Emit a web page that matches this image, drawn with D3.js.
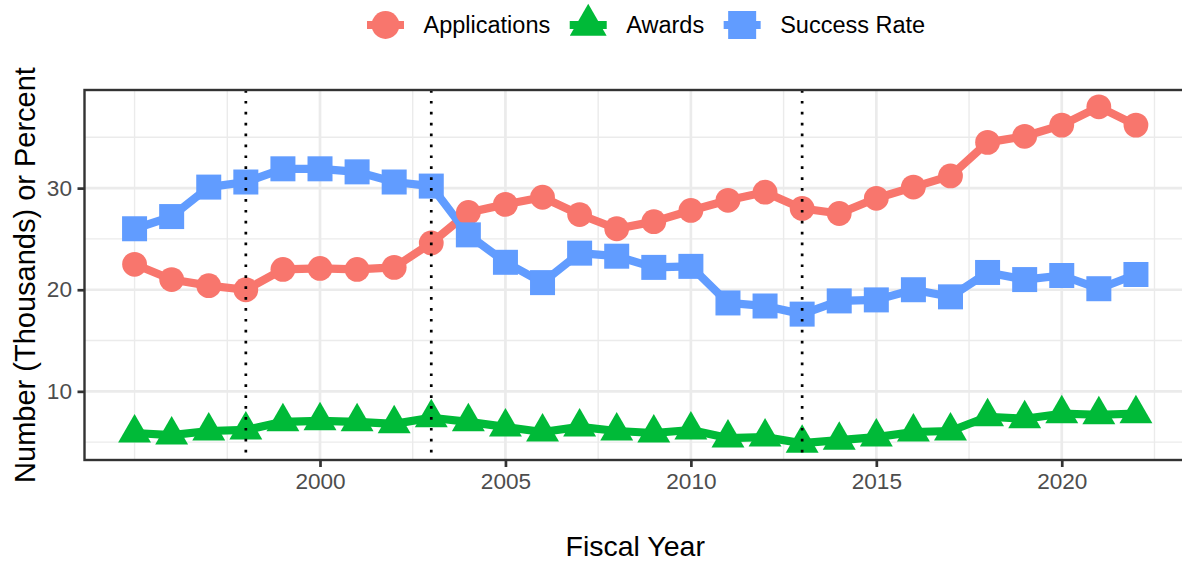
<!DOCTYPE html>
<html>
<head>
<meta charset="utf-8">
<script src="https://cdn.jsdelivr.net/npm/d3@7/dist/d3.min.js"></script>
<style>
  html, body { margin: 0; padding: 0; background: #ffffff; }
  svg { display: block; font-family: "Liberation Sans", Arial, sans-serif; }
</style>
</head>
<body>
<svg id="chart" width="1182" height="562"></svg>
<script>
// ---- data ----
const years = [1995, 1996, 1997, 1998, 1999, 2000, 2001, 2002, 2003, 2004, 2005, 2006, 2007, 2008,
               2009, 2010, 2011, 2012, 2013, 2014, 2015, 2016, 2017, 2018, 2019, 2020, 2021, 2022];
const applications = [22.5, 21.0, 20.4, 20.0, 22.0, 22.1, 22.0, 22.2, 24.6, 27.6, 28.4, 29.1, 27.4, 26.0,
                      26.7, 27.8, 28.8, 29.6, 28.0, 27.5, 29.0, 30.1, 31.2, 34.5, 35.1, 36.2, 38.0, 36.2];
const awards = [5.9, 5.7, 6.1, 6.2, 7.0, 7.1, 7.0, 6.8, 7.4, 7.0, 6.5, 6.0, 6.5, 6.1,
                5.9, 6.2, 5.4, 5.5, 4.9, 5.2, 5.5, 6.0, 6.1, 7.5, 7.3, 7.8, 7.7, 7.8];
const successRate = [26.0, 27.2, 30.1, 30.6, 31.9, 31.9, 31.6, 30.6, 30.2, 25.4, 22.7, 20.7, 23.6, 23.3,
                     22.2, 22.3, 18.7, 18.4, 17.6, 18.9, 19.0, 20.0, 19.3, 21.7, 21.0, 21.4, 20.1, 21.5];
const seriesNames = ["Applications", "Awards", "Success Rate"];
const seriesColors = ["#F8766D", "#00BA38", "#619CFF"];
const seriesShapes = ["circle", "triangle", "square"];
const vlineYears = [1998, 2003, 2013];
const xTicks = [2000, 2005, 2010, 2015, 2020];
const xMinor = [1995, 1997.5, 2002.5, 2007.5, 2012.5, 2017.5, 2022.5];
const yTicks = [10, 20, 30];
const yMinor = [5, 15, 25, 35];
const xTitle = "Fiscal Year";
const yTitle = "Number (Thousands) or Percent";

// ---- layout ----
const panel = { left: 84.5, right: 1186, top: 90, bottom: 460 };
const svg = d3.select("#chart");
svg.append("rect").attr("width", 1182).attr("height", 562).attr("fill", "#ffffff");

const valuesList = [applications, awards, successRate];
const allVals = valuesList.flat();
const yMin = d3.min(allVals), yMax = d3.max(allVals);
const yPad = (yMax - yMin) * 0.05;
const xPad = (d3.max(years) - d3.min(years)) * 0.05;

const x = d3.scaleLinear().domain([d3.min(years) - xPad, d3.max(years) + xPad]).range([panel.left, panel.right]);
const y = d3.scaleLinear().domain([yMin - yPad, yMax + yPad]).range([panel.bottom, panel.top]);

const series = seriesNames.map((name, i) => ({
  name, color: seriesColors[i], shape: seriesShapes[i],
  values: years.map((yr, j) => ({ year: yr, value: valuesList[i][j] }))
}));

// grid
const grid = svg.append("g");
grid.selectAll(".ymin").data(yMinor).enter().append("line")
  .attr("x1", panel.left).attr("x2", panel.right)
  .attr("y1", d => y(d)).attr("y2", d => y(d))
  .attr("stroke", "#EBEBEB").attr("stroke-width", 1.4);
grid.selectAll(".xmin").data(xMinor).enter().append("line")
  .attr("y1", panel.top).attr("y2", panel.bottom)
  .attr("x1", d => x(d)).attr("x2", d => x(d))
  .attr("stroke", "#EBEBEB").attr("stroke-width", 1.4);
grid.selectAll(".ymaj").data(yTicks).enter().append("line")
  .attr("x1", panel.left).attr("x2", panel.right)
  .attr("y1", d => y(d)).attr("y2", d => y(d))
  .attr("stroke", "#EBEBEB").attr("stroke-width", 2.7);
grid.selectAll(".xmaj").data(xTicks).enter().append("line")
  .attr("y1", panel.top).attr("y2", panel.bottom)
  .attr("x1", d => x(d)).attr("x2", d => x(d))
  .attr("stroke", "#EBEBEB").attr("stroke-width", 2.7);

// symbol helper
const CIRC_R = 12.4, SQ = 25, TRI_R = 19;
function addSymbol(g, shape, cx, cy, color, k) {
  k = k || 1;
  if (shape === "circle") {
    g.append("circle").attr("cx", cx).attr("cy", cy).attr("r", CIRC_R * k).attr("fill", color);
  } else if (shape === "square") {
    const s = SQ * k;
    g.append("rect").attr("x", cx - s / 2).attr("y", cy - s / 2).attr("width", s).attr("height", s).attr("fill", color);
  } else {
    const r = TRI_R * k;
    const hw = r * Math.sqrt(3) / 2;
    g.append("path")
      .attr("d", `M${cx},${cy - r}L${cx + hw},${cy + r / 2}L${cx - hw},${cy + r / 2}Z`)
      .attr("fill", color);
  }
}

// lines
const lineGen = d3.line().x(d => x(d.year)).y(d => y(d.value));
const plotG = svg.append("g");
series.forEach(s => {
  plotG.append("path").datum(s.values).attr("d", lineGen)
    .attr("fill", "none").attr("stroke", s.color).attr("stroke-width", 8.2)
    .attr("stroke-linejoin", "round").attr("stroke-linecap", "butt");
});
// points
series.forEach(s => {
  s.values.forEach(d => addSymbol(plotG, s.shape, x(d.year), y(d.value), s.color));
});

// vertical dotted lines
svg.append("g").selectAll("line").data(vlineYears).enter().append("line")
  .attr("x1", d => x(d)).attr("x2", d => x(d))
  .attr("y1", panel.top).attr("y2", panel.bottom)
  .attr("stroke", "#000").attr("stroke-width", 2.7).attr("stroke-dasharray", "2.7 8.2");

// panel border
svg.append("rect").attr("x", panel.left).attr("y", panel.top)
  .attr("width", panel.right - panel.left).attr("height", panel.bottom - panel.top)
  .attr("fill", "none").attr("stroke", "#333333").attr("stroke-width", 2.4);

// axes
const xAxis = d3.axisBottom(x).tickValues(xTicks).tickFormat(d3.format("d")).tickSize(7).tickPadding(5.5);
const gx = svg.append("g").attr("transform", `translate(0,${panel.bottom})`).call(xAxis);
gx.select(".domain").remove();
gx.selectAll(".tick line").attr("stroke", "#333333").attr("stroke-width", 2.7);
gx.selectAll(".tick text").attr("fill", "#4D4D4D").attr("font-size", 22.6)
  .attr("font-family", "Liberation Sans, Arial, sans-serif");

const yAxis = d3.axisLeft(y).tickValues(yTicks).tickFormat(d3.format("d")).tickSize(7).tickPadding(5.5);
const gy = svg.append("g").attr("transform", `translate(${panel.left},0)`).call(yAxis);
gy.select(".domain").remove();
gy.selectAll(".tick line").attr("stroke", "#333333").attr("stroke-width", 2.7);
gy.selectAll(".tick text").attr("fill", "#4D4D4D").attr("font-size", 22.6)
  .attr("font-family", "Liberation Sans, Arial, sans-serif");

// titles
svg.append("text").attr("x", (panel.left + panel.right) / 2).attr("y", 556)
  .attr("text-anchor", "middle").attr("font-size", 28.5).attr("fill", "#000").text(xTitle);
svg.append("text").attr("transform", `translate(35,${(panel.top + panel.bottom) / 2}) rotate(-90)`)
  .attr("text-anchor", "middle").attr("font-size", 29).attr("fill", "#000").text(yTitle);

// legend
const legend = svg.append("g");
const KEY_W = 37, GAP1 = 19.5, GAP2 = 19.5, LEG_Y = 25;
let lx = 367;
series.forEach(s => {
  const kg = legend.append("g");
  kg.append("line").attr("x1", lx).attr("x2", lx + KEY_W).attr("y1", LEG_Y).attr("y2", LEG_Y)
    .attr("stroke", s.color).attr("stroke-width", 8.2);
  addSymbol(kg, s.shape, lx + KEY_W / 2, LEG_Y, s.color, 1.12);
  const t = legend.append("text").attr("x", lx + KEY_W + GAP1).attr("y", LEG_Y + 8.4)
    .attr("font-size", 23.5).attr("fill", "#000").text(s.name);
  lx = lx + KEY_W + GAP1 + t.node().getComputedTextLength() + GAP2;
});
</script>
</body>
</html>
